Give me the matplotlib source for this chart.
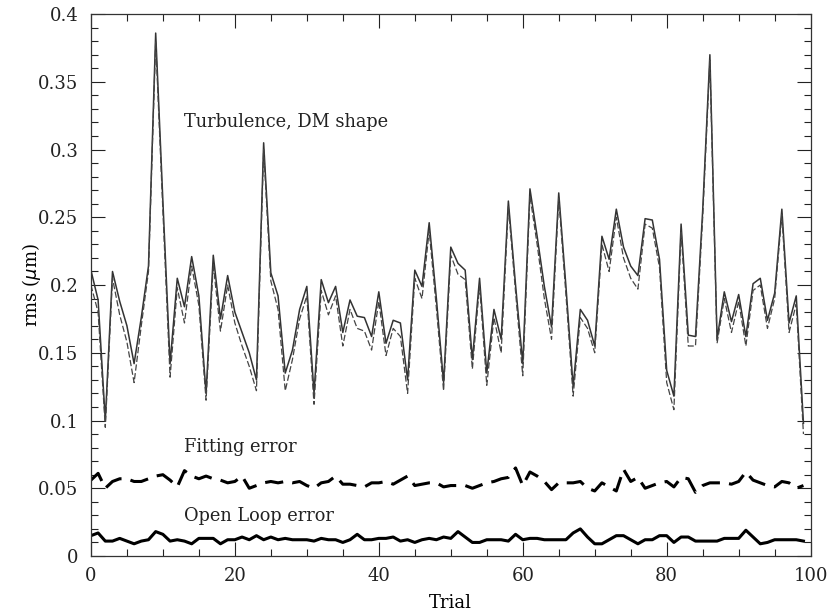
import matplotlib
matplotlib.use("Agg")
import matplotlib.pyplot as plt
from matplotlib.ticker import MultipleLocator

trial = list(range(100))

turbulence = [0.211, 0.189, 0.100, 0.210, 0.188, 0.170, 0.142, 0.176, 0.214, 0.386,
              0.262, 0.142, 0.205, 0.184, 0.221, 0.192, 0.120, 0.222, 0.175, 0.207,
              0.180, 0.165, 0.150, 0.130, 0.305, 0.209, 0.192, 0.135, 0.152, 0.182,
              0.199, 0.120, 0.204, 0.187, 0.199, 0.165, 0.189, 0.177, 0.176, 0.162,
              0.195, 0.157, 0.174, 0.172, 0.130, 0.211, 0.199, 0.246, 0.190, 0.128,
              0.228, 0.216, 0.211, 0.145, 0.205, 0.135, 0.182, 0.160, 0.262, 0.200,
              0.142, 0.271, 0.236, 0.199, 0.169, 0.268, 0.199, 0.125, 0.182, 0.174,
              0.155, 0.236, 0.219, 0.256, 0.228, 0.214, 0.207, 0.249, 0.248, 0.219,
              0.137, 0.118, 0.245, 0.163, 0.162, 0.255, 0.370, 0.160, 0.195, 0.173,
              0.193, 0.162, 0.201, 0.205, 0.174, 0.194, 0.256, 0.172, 0.192, 0.098]

dm_shape = [0.200, 0.180, 0.095, 0.205, 0.178, 0.158, 0.128, 0.170, 0.210, 0.380,
            0.255, 0.132, 0.198, 0.172, 0.214, 0.185, 0.115, 0.215, 0.166, 0.200,
            0.172, 0.155, 0.140, 0.122, 0.300, 0.203, 0.182, 0.122, 0.145, 0.175,
            0.192, 0.112, 0.196, 0.178, 0.192, 0.155, 0.182, 0.168, 0.166, 0.152,
            0.188, 0.148, 0.168, 0.162, 0.120, 0.205, 0.190, 0.240, 0.183, 0.122,
            0.222, 0.208, 0.204, 0.138, 0.200, 0.126, 0.176, 0.150, 0.258, 0.195,
            0.133, 0.266, 0.230, 0.190, 0.160, 0.264, 0.193, 0.118, 0.176, 0.168,
            0.150, 0.230, 0.210, 0.250, 0.220, 0.205, 0.197, 0.245, 0.242, 0.213,
            0.128, 0.108, 0.240, 0.155, 0.155, 0.250, 0.366, 0.157, 0.190, 0.165,
            0.188, 0.155, 0.196, 0.200, 0.168, 0.190, 0.252, 0.165, 0.186, 0.090]

fitting_error = [0.056, 0.061, 0.050, 0.055, 0.057, 0.057, 0.055, 0.055, 0.057, 0.059,
                 0.060, 0.056, 0.051, 0.063, 0.059, 0.057, 0.059, 0.057, 0.056, 0.054,
                 0.055, 0.059, 0.050, 0.052, 0.054, 0.055, 0.054, 0.055, 0.054, 0.055,
                 0.052, 0.050, 0.054, 0.055, 0.059, 0.053, 0.053, 0.052, 0.051, 0.054,
                 0.054, 0.055, 0.053, 0.056, 0.059, 0.052, 0.053, 0.054, 0.054, 0.051,
                 0.052, 0.052, 0.052, 0.050, 0.052, 0.054, 0.055, 0.057, 0.058, 0.065,
                 0.052, 0.062, 0.059, 0.055, 0.049, 0.054, 0.054, 0.054, 0.055, 0.050,
                 0.048, 0.054, 0.051, 0.048, 0.064, 0.055, 0.058, 0.050, 0.052, 0.054,
                 0.055, 0.051, 0.058, 0.057, 0.047, 0.052, 0.054, 0.054, 0.054, 0.053,
                 0.055, 0.062, 0.056, 0.054, 0.052, 0.051, 0.055, 0.054, 0.050, 0.052]

open_loop_error = [0.015, 0.017, 0.011, 0.011, 0.013, 0.011, 0.009, 0.011, 0.012, 0.018,
                   0.016, 0.011, 0.012, 0.011, 0.009, 0.013, 0.013, 0.013, 0.009, 0.012,
                   0.012, 0.014, 0.012, 0.015, 0.012, 0.014, 0.012, 0.013, 0.012, 0.012,
                   0.012, 0.011, 0.013, 0.012, 0.012, 0.010, 0.012, 0.016, 0.012, 0.012,
                   0.013, 0.013, 0.014, 0.011, 0.012, 0.010, 0.012, 0.013, 0.012, 0.014,
                   0.013, 0.018, 0.014, 0.010, 0.010, 0.012, 0.012, 0.012, 0.011, 0.016,
                   0.012, 0.013, 0.013, 0.012, 0.012, 0.012, 0.012, 0.017, 0.020, 0.014,
                   0.009, 0.009, 0.012, 0.015, 0.015, 0.012, 0.009, 0.012, 0.012, 0.015,
                   0.015, 0.010, 0.014, 0.014, 0.011, 0.011, 0.011, 0.011, 0.013, 0.013,
                   0.013, 0.019, 0.014, 0.009, 0.010, 0.012, 0.012, 0.012, 0.012, 0.011]

labels = ["Turbulence, DM shape", "Fitting error", "Open Loop error"]
label_pos = [(13, 0.320), (13, 0.0806), (13, 0.0296)]

plt.rcParams['font.family'] = ['DejaVu Serif']
fig = plt.figure(figsize=(8.34, 6.13), dpi=100)
ax = fig.add_axes([0.109, 0.093, 0.863, 0.884])

ax.plot(trial, turbulence, color='#333333', lw=1.1)
ax.plot(trial, dm_shape, color='#444444', lw=0.9, dashes=(5, 2))
ax.plot(trial, fitting_error, color='black', lw=2.2, dashes=(6, 3))
ax.plot(trial, open_loop_error, color='black', lw=2.2)

for txt, (x, y) in zip(labels, label_pos):
    ax.text(x, y, txt, fontsize=12.8, va='center', ha='left', color='#222222')

ax.set_xlim(0, 100)
ax.set_ylim(0, 0.4)
ax.xaxis.set_major_locator(MultipleLocator(20))
ax.xaxis.set_minor_locator(MultipleLocator(5))
ax.yaxis.set_major_locator(MultipleLocator(0.05))
ax.yaxis.set_minor_locator(MultipleLocator(0.01))
ax.tick_params(which='both', direction='in', top=True, right=True, labelsize=13, colors='#222222')
ax.tick_params(which='major', length=10, width=0.8)
ax.tick_params(which='minor', length=5, width=0.8)
ax.tick_params(axis='x', which='major', pad=8)
ax.tick_params(axis='y', which='major', pad=9)
ax.set_yticks([0, 0.05, 0.1, 0.15, 0.2, 0.25, 0.3, 0.35, 0.4])
ax.set_yticklabels(['0', '0.05', '0.1', '0.15', '0.2', '0.25', '0.3', '0.35', '0.4'])
for s in ax.spines.values():
    s.set_linewidth(0.9)
    s.set_color('#333333')
ax.set_xlabel('Trial', fontsize=13)
ax.set_ylabel(r'rms ($\mu$m)', fontsize=13)
ax.xaxis.set_label_coords(0.5, -0.07)
ax.yaxis.set_label_coords(-0.067, 0.5)

fig.savefig('out.png', dpi=100)
